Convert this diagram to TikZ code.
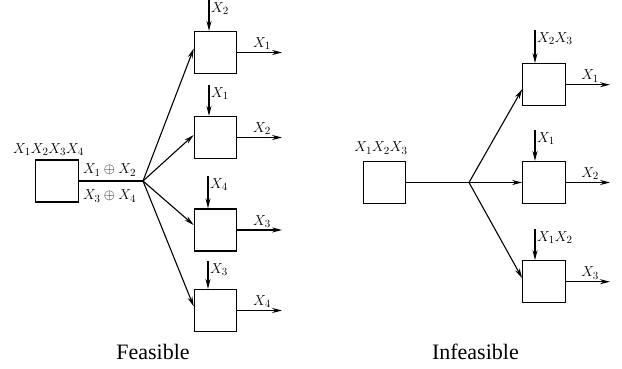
\documentclass[tikz,border=0pt]{standalone}
\usepackage{fontspec}
\setmainfont{Liberation Serif}
\usetikzlibrary{arrows.meta}
\begin{document}
\begin{tikzpicture}[x=1pt,y=-1pt,
  blk/.style={draw,line width=1.1pt,minimum width=42.5pt,minimum height=42pt,inner sep=0pt},
  arr/.style={line width=1.1pt,-{Stealth[length=10pt,width=5pt]}},
  ln/.style={line width=1.1pt},
  lbl/.style={font=\fontsize{15}{18}\selectfont,inner sep=1pt},
  captxt/.style={font=\fontsize{22}{26}\selectfont,inner sep=0pt}]
\useasboundingbox (0,0) rectangle (622,369);
% ---------- Feasible ----------
\node[blk] (fs) at (57,181) {};
\node[lbl] (fsl) at (48.5,150) {$X_1X_2X_3X_4$};
\coordinate (fb) at (143,181);
\draw[ln] (fs.east) -- (fb);
\node[lbl] (fa) at (109.5,170) {$X_1\oplus X_2$};
\node[lbl] (fc) at (109.5,196) {$X_3\oplus X_4$};
\node[blk] (f1) at (215.5,52.5) {};
\node[blk] (f2) at (215.5,137.5) {};
\node[blk] (f3) at (215.5,230) {};
\node[blk] (f4) at (215.5,310.5) {};
\draw[arr] (fb) -- ([yshift=4pt]f1.west);
\draw[arr] (fb) -- ([yshift=2.5pt]f2.west);
\draw[arr] (fb) -- ([yshift=5pt]f3.west);
\draw[arr] (fb) -- ([yshift=4pt]f4.west);
\coordinate (fi1) at (209,0);
\coordinate (fi2) at (209,85);
\coordinate (fi3) at (208,176);
\coordinate (fi4) at (208,261);
\draw[arr] (fi1) -- (fi1 |- f1.north);
\draw[arr] (fi2) -- (fi2 |- f2.north);
\draw[arr] (fi3) -- (fi3 |- f3.north);
\draw[arr] (fi4) -- (fi4 |- f4.north);
\node[lbl,anchor=north west] (fil1) at ([xshift=1pt,yshift=-1pt]fi1) {$X_2$};
\node[lbl,anchor=north west] (fil2) at ([xshift=1pt,yshift=-1pt]fi2) {$X_1$};
\node[lbl,anchor=north west] (fil3) at ([xshift=1pt,yshift=-1pt]fi3) {$X_4$};
\node[lbl,anchor=north west] (fil4) at ([xshift=1pt,yshift=-1pt]fi4) {$X_3$};
\coordinate (fo1) at (282,0);
\draw[arr] (f1.east) -- (fo1 |- f1.east) node[lbl,pos=0.55,above=1pt] {$X_1$};
\draw[arr] (f2.east) -- (fo1 |- f2.east) node[lbl,pos=0.55,above=1pt] {$X_2$};
\draw[arr] (f3.east) -- (fo1 |- f3.east) node[lbl,pos=0.55,above=1pt] {$X_3$};
\draw[arr] (f4.east) -- (fo1 |- f4.east) node[lbl,pos=0.55,above=1pt] {$X_4$};
\node[captxt] (fcap) at (153,352) {Feasible};
% ---------- Infeasible ----------
\node[blk] (is) at (384.5,182.5) {};
\node[lbl] (isl) at (381,148) {$X_1X_2X_3$};
\coordinate (ib) at (469,182.5);
\node[blk] (i1) at (544,84.7) {};
\node[blk] (i2) at (544,182.5) {};
\node[blk] (i3) at (544,281.7) {};
\draw[ln] (is.east) -- (ib);
\draw[arr] (ib) -- (i2.west);
\draw[arr] (ib) -- ([yshift=-4.5pt]i1.west);
\draw[arr] (ib) -- ([yshift=3.5pt]i3.west);
\coordinate (ii1) at (535,30);
\coordinate (ii2) at (535,130);
\coordinate (ii3) at (535,229);
\draw[arr] (ii1) -- (ii1 |- i1.north);
\draw[arr] (ii2) -- (ii2 |- i2.north);
\draw[arr] (ii3) -- (ii3 |- i3.north);
\node[lbl,anchor=north west] (iil1) at ([xshift=1pt,yshift=-1pt]ii1) {$X_2X_3$};
\node[lbl,anchor=north west] (iil2) at ([xshift=1pt,yshift=-1pt]ii2) {$X_1$};
\node[lbl,anchor=north west] (iil3) at ([xshift=1pt,yshift=-1pt]ii3) {$X_1X_2$};
\coordinate (io1) at (610,0);
\draw[arr] (i1.east) -- (io1 |- i1.east) node[lbl,pos=0.55,above=1pt] {$X_1$};
\draw[arr] (i2.east) -- (io1 |- i2.east) node[lbl,pos=0.55,above=1pt] {$X_2$};
\draw[arr] (i3.east) -- (io1 |- i3.east) node[lbl,pos=0.55,above=1pt] {$X_3$};
\node[captxt] (icap) at (475.4,352) {Infeasible};
\end{tikzpicture}
\end{document}
